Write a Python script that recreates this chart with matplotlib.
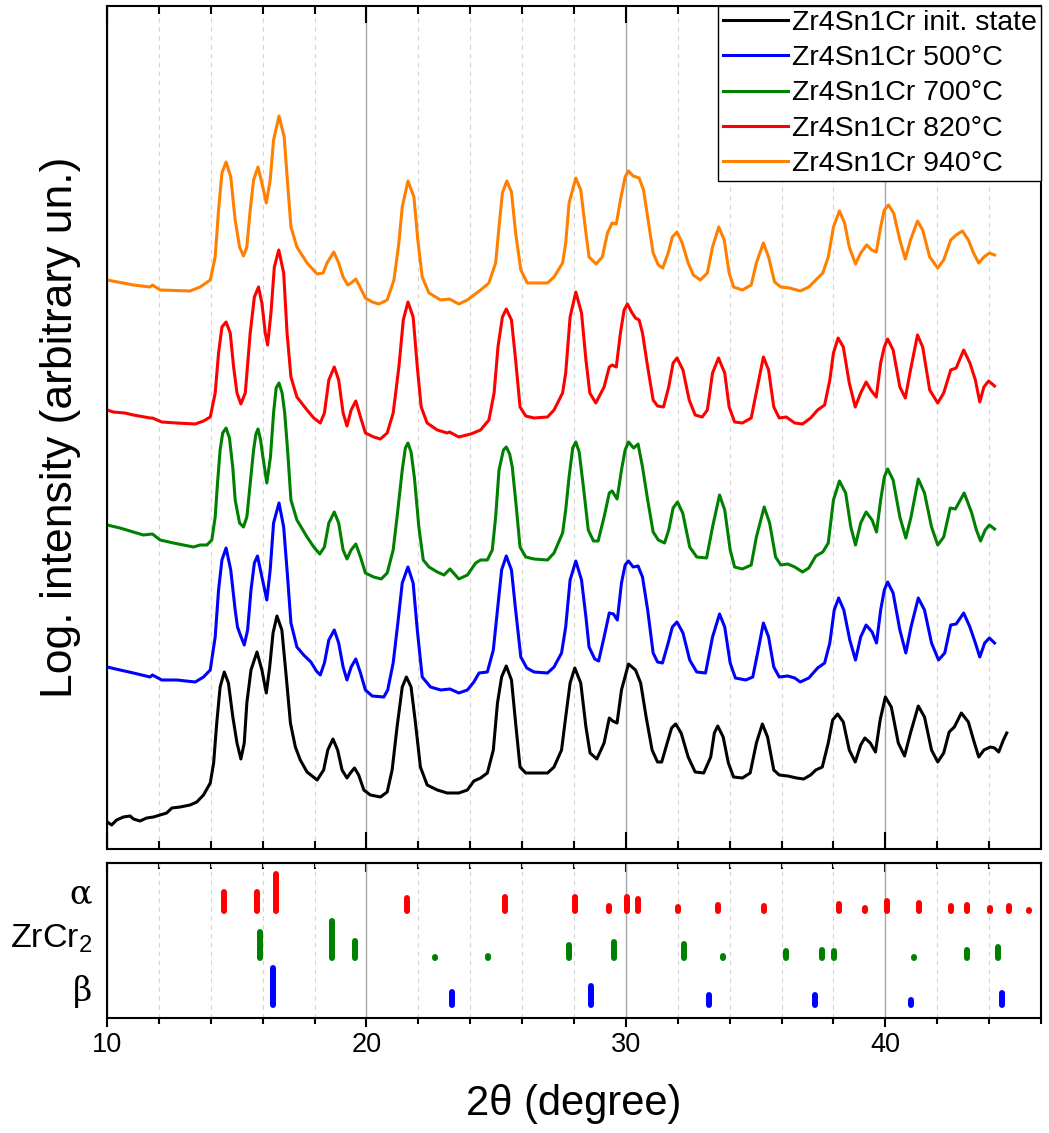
import matplotlib
matplotlib.use('Agg')
import matplotlib.pyplot as plt
from matplotlib.ticker import MultipleLocator
import matplotlib.transforms as mtransforms

plt.rcParams['font.family'] = ['Liberation Sans', 'DejaVu Sans']
plt.rcParams['mathtext.fontset'] = 'custom'
plt.rcParams['mathtext.rm'] = 'Liberation Sans'
plt.rcParams['mathtext.it'] = 'Liberation Sans:italic'
plt.rcParams['mathtext.bf'] = 'Liberation Sans:bold'

# ---------------- data ----------------
series_labels = ['Zr4Sn1Cr init. state', 'Zr4Sn1Cr 500°C', 'Zr4Sn1Cr 700°C',
                 'Zr4Sn1Cr 820°C', 'Zr4Sn1Cr 940°C']
series_colors = ['#000000', '#0000ff', '#008000', '#ff0000', '#ff8000']

# (2theta, displayed log intensity incl. offset)
init_pts = [(10.01, 2.6), (10.18, 2.3), (10.37, 2.8), (10.63, 3.1), (10.89, 3.2), (11.02, 2.9),
            (11.27, 2.7), (11.53, 3.0), (11.79, 3.1), (12.05, 3.3), (12.30, 3.5), (12.50, 4.0),
            (12.82, 4.1), (13.20, 4.3), (13.46, 4.6), (13.72, 5.3), (13.98, 6.5), (14.11, 8.5),
            (14.23, 12.5), (14.36, 16.1), (14.52, 17.6), (14.68, 16.5), (14.85, 13.1), (15.01, 10.5),
            (15.16, 8.9), (15.29, 10.5), (15.39, 14.5), (15.55, 17.8), (15.78, 19.6), (15.97, 17.8),
            (16.14, 15.5), (16.27, 18.1), (16.40, 21.5), (16.55, 23.2), (16.74, 21.8), (16.91, 17.1),
            (17.07, 12.5), (17.26, 10.1), (17.45, 8.8), (17.71, 7.6), (18.10, 6.8), (18.35, 7.8),
            (18.51, 9.8), (18.71, 10.9), (18.89, 9.8), (19.06, 7.8), (19.25, 7.0), (19.38, 7.5),
            (19.54, 8.0), (19.70, 7.3), (19.90, 5.8), (20.15, 5.3), (20.54, 5.1), (20.80, 5.6),
            (20.99, 7.8), (21.18, 12.1), (21.38, 16.1), (21.54, 17.1), (21.72, 16.1), (21.89, 12.5),
            (22.08, 8.1), (22.34, 6.3), (22.73, 5.8), (23.11, 5.5), (23.56, 5.5), (23.89, 5.8),
            (24.14, 6.7), (24.40, 7.0), (24.66, 7.5), (24.89, 9.8), (25.05, 14.5), (25.21, 17.1),
            (25.39, 18.2), (25.59, 16.8), (25.75, 12.5), (25.92, 8.1), (26.14, 7.5), (26.46, 7.5),
            (26.98, 7.5), (27.23, 8.1), (27.52, 9.8), (27.68, 13.1), (27.85, 16.5), (28.03, 18.0),
            (28.26, 16.5), (28.46, 12.1), (28.62, 9.5), (28.88, 8.9), (29.16, 10.5), (29.36, 13.0),
            (29.49, 12.7), (29.66, 12.5), (29.83, 15.8), (30.10, 18.4), (30.37, 17.8), (30.57, 16.5),
            (30.78, 13.1), (31.01, 9.8), (31.22, 8.6), (31.38, 8.6), (31.59, 10.5), (31.76, 12.0),
            (31.92, 12.4), (32.13, 11.5), (32.40, 9.1), (32.67, 7.6), (33.00, 7.5), (33.27, 9.1),
            (33.41, 11.5), (33.54, 12.2), (33.75, 11.1), (33.95, 8.5), (34.15, 7.1), (34.49, 7.0),
            (34.79, 7.5), (35.03, 10.5), (35.26, 12.4), (35.46, 11.1), (35.70, 7.8), (35.91, 7.3),
            (36.24, 7.2), (36.58, 7.0), (36.85, 6.9), (37.12, 7.3), (37.32, 7.8), (37.57, 8.1),
            (37.80, 10.5), (37.97, 12.8), (38.16, 13.4), (38.38, 12.6), (38.61, 9.8), (38.84, 8.6),
            (39.05, 10.3), (39.21, 11.0), (39.42, 10.5), (39.62, 9.6), (39.80, 12.8), (40.00, 15.1),
            (40.23, 14.1), (40.50, 10.5), (40.74, 9.2), (40.97, 11.5), (41.27, 14.2), (41.51, 13.1),
            (41.78, 9.8), (42.02, 8.6), (42.25, 9.5), (42.46, 11.6), (42.66, 12.1), (42.93, 13.5),
            (43.20, 12.6), (43.40, 10.8), (43.60, 9.1), (43.80, 9.8), (44.05, 10.1), (44.21, 10.0),
            (44.37, 9.6), (44.55, 10.8), (44.68, 11.5)]

c500_pts = [(10.01, 18.1), (10.50, 17.8), (11.02, 17.5), (11.66, 17.1), (11.75, 17.3), (12.11, 16.8),
            (12.69, 16.8), (13.40, 16.6), (13.72, 17.1), (13.98, 17.8), (14.17, 21.1), (14.30, 25.8),
            (14.43, 28.8), (14.59, 30.0), (14.77, 27.8), (14.94, 23.8), (15.03, 22.1), (15.14, 21.3),
            (15.29, 20.3), (15.42, 21.8), (15.55, 25.8), (15.68, 28.5), (15.80, 29.2), (15.97, 27.1),
            (16.16, 24.8), (16.29, 27.8), (16.42, 32.5), (16.63, 34.5), (16.81, 32.1), (16.96, 27.1),
            (17.09, 22.5), (17.32, 20.1), (17.58, 19.3), (17.86, 18.6), (18.07, 17.7), (18.22, 17.3),
            (18.38, 18.5), (18.55, 20.8), (18.76, 21.8), (18.93, 20.5), (19.10, 18.1), (19.25, 16.8),
            (19.41, 18.1), (19.59, 18.9), (19.77, 17.5), (19.96, 15.8), (20.22, 15.2), (20.67, 15.1),
            (20.82, 15.8), (21.03, 18.5), (21.21, 22.5), (21.38, 26.5), (21.60, 28.1), (21.80, 26.5),
            (21.96, 21.8), (22.15, 17.1), (22.47, 16.1), (22.86, 15.8), (23.22, 15.9), (23.56, 15.5),
            (23.89, 15.8), (24.14, 16.6), (24.34, 17.5), (24.66, 17.6), (24.89, 19.8), (25.05, 23.8),
            (25.21, 27.8), (25.39, 29.2), (25.59, 27.8), (25.75, 23.8), (25.95, 19.1), (26.18, 18.0),
            (26.46, 17.6), (26.98, 17.5), (27.23, 18.1), (27.52, 19.5), (27.68, 22.1), (27.85, 26.8),
            (28.07, 28.7), (28.29, 26.8), (28.46, 23.1), (28.58, 20.1), (28.80, 18.9), (28.95, 18.7),
            (29.16, 21.1), (29.36, 23.5), (29.52, 23.4), (29.67, 22.8), (29.83, 26.5), (29.97, 28.3),
            (30.10, 28.7), (30.28, 28.1), (30.47, 28.2), (30.64, 27.1), (30.84, 23.8), (31.05, 19.5),
            (31.22, 18.6), (31.41, 18.5), (31.63, 20.5), (31.79, 22.1), (31.97, 22.6), (32.20, 21.5),
            (32.46, 18.8), (32.73, 17.6), (33.07, 17.5), (33.34, 21.1), (33.61, 23.4), (33.81, 22.1),
            (34.02, 18.5), (34.22, 17.0), (34.62, 16.8), (34.89, 17.1), (35.10, 19.8), (35.30, 22.5),
            (35.50, 21.1), (35.70, 18.1), (35.91, 17.1), (36.24, 17.2), (36.51, 17.0), (36.72, 16.6),
            (37.05, 17.0), (37.39, 18.0), (37.66, 18.5), (37.86, 20.5), (38.03, 23.8), (38.20, 25.0),
            (38.40, 23.8), (38.63, 20.8), (38.85, 18.8), (39.05, 21.1), (39.26, 22.3), (39.49, 21.6),
            (39.66, 20.5), (39.82, 23.8), (39.96, 25.8), (40.09, 26.6), (40.30, 25.5), (40.56, 21.8),
            (40.79, 19.5), (40.99, 22.1), (41.27, 25.0), (41.51, 23.8), (41.78, 20.5), (42.05, 18.8),
            (42.29, 19.5), (42.52, 22.3), (42.73, 22.4), (43.02, 23.5), (43.26, 22.1), (43.47, 20.5),
            (43.64, 19.1), (43.83, 20.5), (44.01, 21.0), (44.21, 20.5)]

c700_pts = [(10.01, 32.3), (10.50, 32.0), (11.02, 31.6), (11.40, 31.3), (11.75, 31.4), (12.05, 30.8),
            (12.56, 30.5), (13.33, 30.1), (13.59, 30.3), (13.85, 30.3), (14.04, 30.8), (14.17, 33.1),
            (14.26, 36.5), (14.36, 39.8), (14.46, 41.5), (14.59, 42.0), (14.72, 41.0), (14.85, 38.0),
            (14.94, 34.8), (15.11, 32.5), (15.26, 32.1), (15.39, 33.1), (15.52, 36.5), (15.65, 39.8),
            (15.74, 41.4), (15.82, 41.9), (15.92, 40.8), (16.01, 39.1), (16.16, 36.5), (16.30, 39.1),
            (16.42, 43.5), (16.52, 46.0), (16.63, 46.5), (16.75, 45.5), (16.85, 43.5), (16.96, 39.8),
            (17.09, 34.8), (17.32, 32.8), (17.71, 31.1), (17.97, 30.1), (18.20, 29.4), (18.38, 30.1),
            (18.55, 32.5), (18.76, 33.6), (18.93, 32.5), (19.10, 29.8), (19.25, 28.9), (19.41, 29.8),
            (19.59, 30.4), (19.77, 29.1), (19.96, 27.5), (20.28, 27.1), (20.57, 26.9), (20.80, 27.5),
            (21.03, 29.8), (21.18, 33.1), (21.38, 37.8), (21.50, 40.0), (21.60, 40.5), (21.72, 39.6),
            (21.85, 37.0), (22.02, 32.1), (22.19, 28.8), (22.41, 28.1), (22.73, 27.6), (22.99, 27.3),
            (23.22, 27.9), (23.56, 26.9), (23.89, 27.3), (24.21, 28.5), (24.40, 28.8), (24.66, 28.8),
            (24.85, 29.8), (24.98, 33.1), (25.11, 37.8), (25.28, 39.8), (25.39, 40.1), (25.52, 39.4),
            (25.62, 38.1), (25.75, 34.8), (25.92, 30.1), (26.14, 29.1), (26.46, 28.9), (26.98, 28.8),
            (27.23, 29.5), (27.56, 31.5), (27.68, 33.8), (27.81, 37.1), (27.95, 40.0), (28.07, 40.6),
            (28.20, 39.6), (28.39, 35.5), (28.55, 31.8), (28.75, 30.7), (28.93, 30.7), (29.16, 33.1),
            (29.36, 35.5), (29.47, 35.7), (29.66, 34.9), (29.83, 37.8), (29.97, 39.8), (30.10, 40.6),
            (30.30, 40.0), (30.47, 40.4), (30.64, 38.1), (30.84, 34.8), (31.05, 31.6), (31.25, 30.8),
            (31.49, 30.5), (31.65, 31.8), (31.82, 34.0), (31.99, 34.6), (32.19, 33.5), (32.46, 30.1),
            (32.73, 29.1), (33.11, 29.0), (33.34, 32.1), (33.61, 35.3), (33.81, 33.8), (34.02, 29.8),
            (34.19, 28.1), (34.49, 27.9), (34.83, 28.3), (35.03, 31.1), (35.33, 34.1), (35.54, 32.5),
            (35.77, 29.1), (35.97, 28.3), (36.24, 28.4), (36.51, 28.1), (36.81, 27.6), (37.05, 28.0),
            (37.32, 29.2), (37.59, 29.6), (37.80, 30.5), (38.00, 34.8), (38.23, 36.7), (38.47, 35.5),
            (38.67, 32.1), (38.85, 30.3), (39.05, 32.5), (39.26, 33.6), (39.49, 32.8), (39.66, 31.6),
            (39.82, 34.8), (39.96, 37.1), (40.09, 37.9), (40.30, 36.8), (40.56, 33.1), (40.79, 31.0),
            (40.99, 33.1), (41.27, 36.9), (41.51, 35.5), (41.78, 32.1), (42.02, 30.3), (42.25, 31.1),
            (42.50, 34.0), (42.70, 33.9), (43.04, 35.5), (43.33, 33.5), (43.51, 31.8), (43.67, 30.7),
            (43.85, 31.8), (44.01, 32.3), (44.21, 31.9)]

c820_pts = [(10.01, 43.8), (10.24, 43.6), (10.69, 43.5), (11.02, 43.3), (11.66, 43.0), (11.75, 43.0),
            (12.11, 42.6), (12.69, 42.5), (13.40, 42.4), (13.72, 42.7), (13.98, 43.1), (14.17, 45.5),
            (14.30, 49.5), (14.43, 52.1), (14.59, 52.6), (14.75, 51.5), (14.88, 48.1), (15.01, 45.5),
            (15.16, 44.4), (15.33, 45.5), (15.52, 51.5), (15.68, 55.1), (15.84, 56.1), (15.97, 54.5),
            (16.10, 51.5), (16.19, 50.3), (16.32, 53.5), (16.45, 58.1), (16.62, 59.8), (16.81, 57.5),
            (16.94, 51.5), (17.09, 47.1), (17.32, 45.1), (17.71, 43.8), (17.97, 43.0), (18.22, 42.5),
            (18.38, 43.5), (18.55, 46.8), (18.76, 48.1), (18.93, 46.8), (19.10, 43.5), (19.25, 42.2),
            (19.41, 43.8), (19.59, 44.7), (19.77, 43.1), (19.96, 41.5), (20.28, 41.1), (20.54, 40.9),
            (20.80, 41.5), (21.03, 43.5), (21.25, 48.1), (21.42, 52.8), (21.60, 54.6), (21.80, 53.1),
            (21.96, 48.1), (22.11, 44.1), (22.34, 42.5), (22.73, 41.8), (23.11, 41.5), (23.20, 41.6),
            (23.56, 41.1), (24.02, 41.4), (24.40, 41.8), (24.72, 42.8), (24.92, 45.5), (25.07, 50.1),
            (25.24, 53.1), (25.39, 53.9), (25.59, 52.8), (25.75, 48.8), (25.92, 44.1), (26.14, 43.2),
            (26.46, 43.0), (26.98, 43.1), (27.23, 43.8), (27.56, 45.5), (27.68, 47.5), (27.85, 53.1),
            (28.07, 55.6), (28.29, 53.5), (28.46, 48.8), (28.61, 45.5), (28.84, 44.5), (29.16, 46.1),
            (29.36, 48.1), (29.47, 48.3), (29.63, 48.1), (29.79, 51.5), (29.93, 53.8), (30.06, 54.4),
            (30.24, 53.5), (30.37, 53.0), (30.51, 52.8), (30.64, 51.5), (30.84, 48.1), (31.05, 44.8),
            (31.22, 44.2), (31.45, 44.1), (31.65, 46.1), (31.82, 48.5), (31.97, 49.0), (32.20, 47.8),
            (32.44, 44.8), (32.67, 43.3), (32.94, 43.1), (33.14, 43.8), (33.34, 47.5), (33.57, 49.0),
            (33.81, 47.5), (33.98, 44.1), (34.19, 42.6), (34.49, 42.5), (34.83, 43.0), (35.10, 46.5),
            (35.30, 49.1), (35.50, 47.8), (35.70, 44.1), (35.91, 43.0), (36.18, 43.1), (36.51, 42.5),
            (36.81, 42.4), (37.12, 43.0), (37.39, 43.8), (37.66, 44.3), (37.86, 46.8), (38.00, 49.5),
            (38.18, 51.0), (38.38, 50.1), (38.61, 46.5), (38.84, 44.1), (39.05, 45.5), (39.26, 46.6),
            (39.44, 45.8), (39.65, 45.1), (39.82, 48.5), (39.96, 50.1), (40.09, 50.9), (40.30, 49.8),
            (40.56, 46.1), (40.77, 45.0), (40.97, 47.8), (41.24, 51.3), (41.44, 50.1), (41.71, 45.8),
            (42.02, 44.5), (42.25, 45.5), (42.52, 47.8), (42.73, 48.0), (43.02, 49.8), (43.26, 48.5),
            (43.47, 46.8), (43.64, 44.6), (43.80, 46.1), (43.98, 46.7), (44.21, 46.2)]

c940_pts = [(10.01, 56.8), (11.02, 56.3), (11.66, 56.1), (11.75, 56.3), (12.05, 55.8), (13.20, 55.7),
            (13.59, 56.1), (13.98, 56.8), (14.17, 59.1), (14.30, 63.8), (14.43, 67.5), (14.59, 68.6),
            (14.77, 67.1), (14.94, 62.8), (15.11, 60.1), (15.26, 59.2), (15.39, 60.1), (15.52, 63.8),
            (15.65, 66.8), (15.82, 68.1), (15.97, 66.5), (16.14, 64.5), (16.29, 66.8), (16.42, 70.8),
            (16.63, 73.2), (16.83, 71.1), (16.96, 66.5), (17.09, 62.1), (17.32, 60.1), (17.71, 58.5),
            (18.10, 57.4), (18.33, 57.5), (18.48, 58.5), (18.74, 59.6), (18.93, 58.5), (19.10, 57.1),
            (19.28, 56.3), (19.41, 56.5), (19.59, 56.9), (19.77, 56.0), (19.96, 55.0), (20.22, 54.6),
            (20.48, 54.4), (20.80, 54.8), (21.06, 56.8), (21.25, 60.5), (21.38, 64.1), (21.60, 66.7),
            (21.83, 65.1), (21.98, 60.8), (22.15, 57.1), (22.41, 55.5), (22.86, 54.8), (23.20, 54.9),
            (23.56, 54.4), (23.89, 54.8), (24.40, 55.8), (24.72, 56.5), (24.98, 58.5), (25.11, 62.1),
            (25.24, 65.5), (25.41, 66.7), (25.59, 65.6), (25.75, 61.5), (25.95, 57.8), (26.20, 56.5),
            (26.98, 56.5), (27.23, 57.1), (27.56, 58.5), (27.68, 60.5), (27.81, 64.5), (28.07, 67.0),
            (28.26, 65.8), (28.46, 61.5), (28.58, 59.1), (28.85, 58.4), (29.09, 59.1), (29.29, 61.5),
            (29.47, 62.5), (29.63, 62.4), (29.79, 64.8), (29.97, 67.1), (30.10, 67.7), (30.28, 67.2),
            (30.51, 67.0), (30.68, 65.8), (30.84, 63.1), (31.05, 59.5), (31.25, 58.3), (31.42, 58.0),
            (31.63, 59.5), (31.79, 61.1), (31.97, 61.6), (32.17, 60.5), (32.40, 58.5), (32.60, 57.3),
            (32.87, 56.8), (33.14, 57.5), (33.34, 60.1), (33.58, 62.1), (33.79, 60.8), (33.98, 57.5),
            (34.15, 56.1), (34.49, 55.8), (34.83, 56.3), (35.03, 58.5), (35.30, 60.5), (35.50, 59.1),
            (35.73, 56.6), (35.97, 56.1), (36.31, 56.0), (36.72, 55.7), (37.05, 56.1), (37.32, 56.8),
            (37.59, 57.5), (37.80, 59.1), (38.00, 62.1), (38.23, 63.7), (38.43, 62.5), (38.61, 60.1),
            (38.85, 58.4), (39.05, 59.5), (39.28, 60.3), (39.48, 59.8), (39.65, 59.6), (39.82, 62.1),
            (39.96, 63.8), (40.12, 64.3), (40.32, 63.5), (40.56, 60.8), (40.77, 58.9), (40.97, 60.8),
            (41.24, 62.7), (41.44, 61.8), (41.71, 59.1), (42.02, 58.0), (42.25, 58.8), (42.52, 60.8),
            (42.73, 61.3), (42.97, 61.7), (43.20, 60.8), (43.40, 59.5), (43.60, 58.5), (43.80, 59.1),
            (44.01, 59.5), (44.21, 59.3)]

series_pts = [init_pts, c500_pts, c700_pts, c820_pts, c940_pts]

# reference reflections: positions (2theta) and relative intensities (0-100)
alpha_pos = [14.50, 15.78, 16.53, 21.56, 25.34, 28.03, 29.36, 30.04, 30.46, 32.00, 33.54,
             35.34, 38.20, 39.22, 40.07, 41.30, 42.54, 43.13, 44.04, 44.76, 45.54]
alpha_int = [57, 57, 100, 44, 47, 47, 25, 47, 42, 23, 27, 25, 31, 22, 38, 33, 26, 29, 21, 26, 16]
zrcr2_pos = [15.90, 18.68, 19.55, 22.63, 24.69, 27.80, 29.55, 32.24, 33.76, 36.16, 37.54,
             38.01, 39.79, 41.09, 43.15, 44.34]
zrcr2_int = [74, 100, 54, 17, 18, 45, 52, 46, 18, 31, 33, 30, 15, 17, 32, 39]
beta_pos = [16.39, 23.31, 28.66, 33.22, 37.29, 41.00, 44.48]
beta_int = [100, 45, 57, 37, 38, 26, 41]
phase_names = ['α', 'ZrCr$_2$', 'β']
phase_colors = ['#ff0000', '#008000', '#0000ff']

x_ticks = [10, 20, 30, 40]

# ---------------- figure ----------------
W, H = 1049, 1133
fig = plt.figure(figsize=(W / 100, H / 100), dpi=100)


def frac(l, t, r, b):
    return [l / W, 1 - b / H, (r - l) / W, (b - t) / H]


ax = fig.add_axes(frac(107, 6, 1041, 849))
axb = fig.add_axes(frac(107, 863, 1041, 1018))

for pts, col, lab in zip(series_pts, series_colors, series_labels):
    xs = [p[0] for p in pts]
    ys = [p[1] for p in pts]
    ax.plot(xs, ys, color=col, lw=2.2, label=lab, solid_joinstyle='round')

for a in (ax, axb):
    a.set_xlim(10, 46)
    a.xaxis.set_major_locator(MultipleLocator(10))
    a.xaxis.set_minor_locator(MultipleLocator(2))
    a.grid(which='major', axis='x', color='#a6a6a6', lw=1.0, ls='-')
    a.grid(which='minor', axis='x', color='#d4d4d4', lw=0.8, ls=(0, (4, 4)))
    a.set_axisbelow(True)
    for s in a.spines.values():
        s.set_linewidth(1.5)
    a.tick_params(axis='y', left=False, right=False, labelleft=False)

ax.set_ylim(-0.1, 84.2)
ax.tick_params(axis='x', which='both', direction='in', top=True, bottom=True,
               labelbottom=False, width=1.5)
ax.tick_params(axis='x', which='major', length=12)
ax.tick_params(axis='x', which='minor', length=6)
ax.set_ylabel('Log. intensity (arbitrary un.)', fontsize=32, va='center')
ax.yaxis.set_label_coords(-0.0498, 0.5)

leg = ax.legend(loc='upper right', borderaxespad=0, fontsize=20.5, frameon=True,
                fancybox=False, edgecolor='black', framealpha=1, handlelength=2.28,
                handletextpad=0.15, labelspacing=0.32, borderpad=0.15)
leg.get_frame().set_linewidth(1.0)

# bottom panel
axb.set_ylim(0, 155)
axb.set_xticks(x_ticks)
axb.tick_params(axis='x', which='both', direction='out', top=False, bottom=True,
                width=1.5, labelsize=19.5, pad=3.4)
axb.tick_params(axis='x', which='major', length=6.5)
axb.tick_params(axis='x', which='minor', length=4.3)
sec = axb.secondary_xaxis('top')
sec.xaxis.set_major_locator(MultipleLocator(10))
sec.xaxis.set_minor_locator(MultipleLocator(2))
sec.tick_params(axis='x', which='both', direction='in', labeltop=False, width=1.5)
sec.tick_params(axis='x', which='major', length=6.5)
sec.tick_params(axis='x', which='minor', length=4)
sec.spines['top'].set_linewidth(1.5)

axb.set_xlabel('2θ (degree)', fontsize=30, va='center')
axb.xaxis.set_label_coords(0.5, -0.555)

bases = [104, 57, 10]
scale = 0.43
cap = 3.0
trans = mtransforms.blended_transform_factory(axb.transAxes, axb.transData)
label_y = [115, 70, 17]
label_font = [('DejaVu Serif', 24), ('Liberation Sans', 24.5), ('DejaVu Serif', 24)]
for base, pos, inten, col, name, ly, (fam, fs) in zip(
        bases, [alpha_pos, zrcr2_pos, beta_pos], [alpha_int, zrcr2_int, beta_int],
        phase_colors, phase_names, label_y, label_font):
    tops = [base + i * scale - cap for i in inten]
    axb.vlines(pos, base + cap, tops, colors=col, lw=4.3, capstyle='round')
    axb.text(-0.016, ly, name, transform=trans, ha='right', va='baseline',
             fontsize=fs, family=fam)

fig.savefig('out.png', dpi=100)
